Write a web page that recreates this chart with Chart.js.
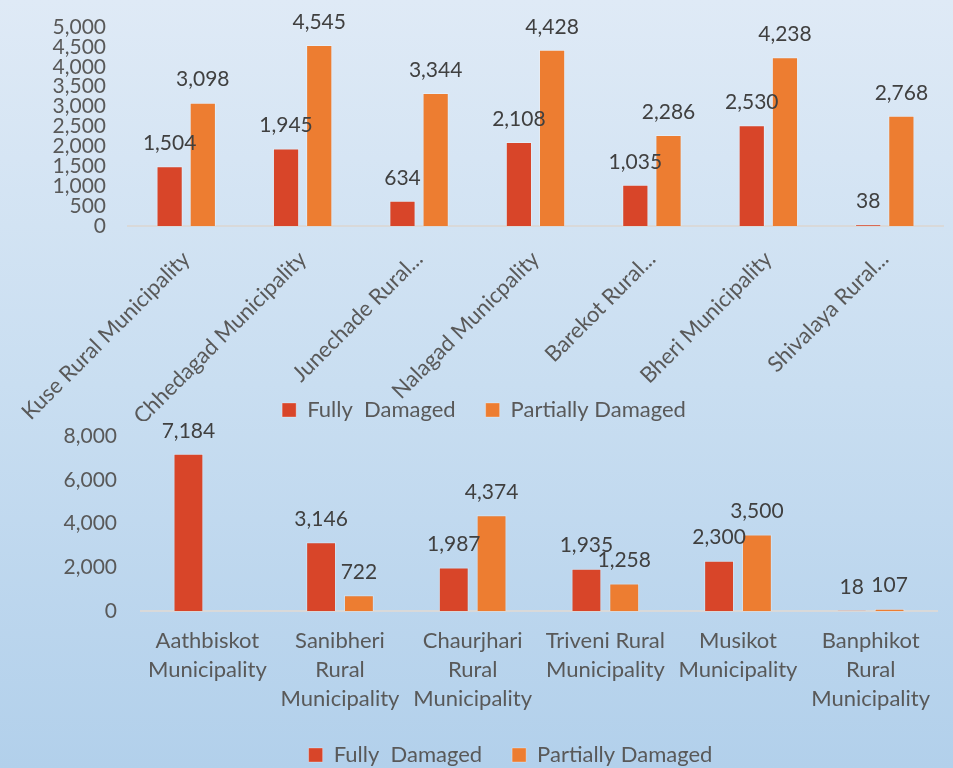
<!DOCTYPE html>
<html><head><meta charset="utf-8">
<script src="https://cdn.jsdelivr.net/npm/chart.js@4.4.0/dist/chart.umd.min.js"></script>
<style>
html,body{margin:0;padding:0;}
body{width:953px;height:768px;background:linear-gradient(to bottom,#dfeaf6 0%,#c9def1 50%,#b2d0eb 100%);position:relative;overflow:hidden;}
#c1{position:absolute;left:0;top:0;}
#c2{position:absolute;left:0;top:415px;}
</style></head><body>
<canvas id="c1" width="953" height="485" style="width:953px;height:485px"></canvas>
<canvas id="c2" width="953" height="366" style="width:953px;height:366px"></canvas>
<script>
// ---- data ----
const seriesNames = ["Fully  Damaged", "Partially Damaged"];
const topCategories = ["Kuse Rural Municipality", "Chhedagad Municipality", "Junechade Rural...", "Nalagad Municpality", "Barekot Rural...", "Bheri Municipality", "Shivalaya Rural..."];
const topFully = [1504, 1945, 634, 2108, 1035, 2530, 38];
const topPartial = [3098, 4545, 3344, 4428, 2286, 4238, 2768];
const topYMax = 5000, topYStep = 500;

const bottomCategories = [["Aathbiskot", "Municipality"], ["Sanibheri", "Rural", "Municipality"], ["Chaurjhari", "Rural", "Municipality"], ["Triveni Rural", "Municipality"], ["Musikot", "Municipality"], ["Banphikot", "Rural", "Municipality"]];
const bottomFully = [7184, 3146, 1987, 1935, 2300, 18];
const bottomPartial = [null, 722, 4374, 1258, 3500, 107];
const bottomYMax = 8000, bottomYStep = 2000;

const RED = '#D84529', ORANGE = '#ED7D31';
const FONT = 'Lato';

const valueLabels = {
  id: 'valueLabels',
  afterDatasetsDraw(chart) {
    const ctx = chart.ctx;
    ctx.save();
    ctx.font = '21px ' + FONT;
    ctx.fillStyle = '#404040';
    ctx.textAlign = 'center';
    ctx.textBaseline = 'middle';
    chart.data.datasets.forEach((ds, i) => {
      const meta = chart.getDatasetMeta(i);
      meta.data.forEach((bar, j) => {
        const v = ds.data[j];
        if (v == null) return;
        ctx.fillText(v.toLocaleString('en-US'), bar.x, bar.y - 23);
      });
    });
    ctx.restore();
  }
};

// moves the legend box after layout (lets it sit beside long rotated labels)
const legendShift = {
  id: 'legendShift',
  afterLayout(chart, args, opts) {
    const lg = chart.legend;
    if (!lg) return;
    lg.left += opts.dx || 0; lg.right += opts.dx || 0;
    lg.top += opts.dy || 0; lg.bottom += opts.dy || 0;
  }
};

function makeChart(id, labels, fully, partial, yMax, yStep, opt) {
  return new Chart(document.getElementById(id), {
    type: 'bar',
    data: {
      labels: labels,
      datasets: [
        { label: seriesNames[0], data: fully, backgroundColor: RED, borderColor: 'rgba(255,255,255,0.3)', borderWidth: 1 },
        { label: seriesNames[1], data: partial, backgroundColor: ORANGE, borderColor: 'rgba(255,255,255,0.3)', borderWidth: 1 }
      ]
    },
    options: {
      responsive: false,
      animation: false,
      devicePixelRatio: 1,
      layout: { padding: opt.padding },
      datasets: { bar: { categoryPercentage: 0.57, barPercentage: 0.79 } },
      plugins: {
        tooltip: { enabled: false },
        legendShift: opt.shift,
        legend: {
          position: 'bottom',
          labels: { boxWidth: 14, boxHeight: 14, padding: 30, color: '#595959', font: { family: FONT, size: 22 } }
        }
      },
      scales: {
        x: {
          grid: { display: false, drawTicks: false },
          border: { display: true, color: '#d9d9d9', width: 2 },
          ticks: {
            color: '#595959', font: { family: FONT, size: 22, lineHeight: 1.33 },
            autoSkip: false, minRotation: opt.rot, maxRotation: opt.rot, padding: opt.xPad
          },
          afterFit: (s) => { s.height = opt.xHeight; s.paddingLeft = 0; s.paddingRight = 0; }
        },
        y: {
          min: 0, max: yMax,
          grid: { display: false, drawTicks: false },
          border: { display: false },
          ticks: {
            stepSize: yStep, autoSkip: false, color: '#595959', font: { family: FONT, size: 21 }, padding: opt.yPad,
            callback: (v) => v.toLocaleString('en-US')
          },
          afterFit: (s) => { s.width = opt.yWidth; s.paddingTop = 0; s.paddingBottom = 0; }
        }
      }
    },
    plugins: [valueLabels, legendShift]
  });
}

makeChart('c1', topCategories, topFully, topPartial, topYMax, topYStep,
  { padding: { top: 27, left: 25, right: 10, bottom: 2 }, xHeight: 195, yWidth: 103, yPad: 22, rot: 45, xPad: 19,
    shift: { dx: 0, dy: -52 } });
makeChart('c2', bottomCategories, bottomFully, bottomPartial, bottomYMax, bottomYStep,
  { padding: { top: 21, left: 20, right: 16, bottom: 5 }, xHeight: 103, yWidth: 121, yPad: 24, rot: 0, xPad: 15,
    shift: { dx: 32, dy: 0 } });
</script>
</body></html>
